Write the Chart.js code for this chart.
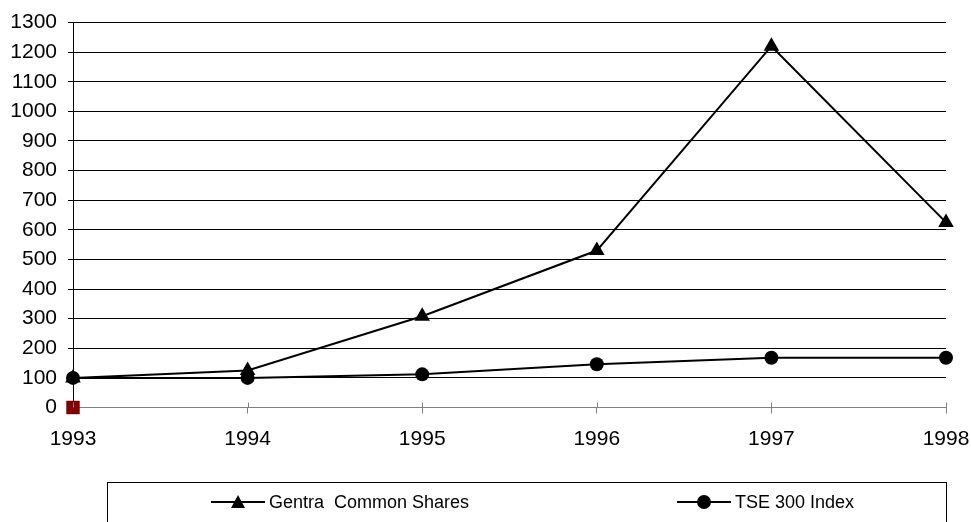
<!DOCTYPE html>
<html lang="en">
<head>
    <meta charset="UTF-8">
    <title>Gentra Common Shares vs TSE 300 Index</title>
    <script src="https://cdn.jsdelivr.net/npm/chart.js"></script>
    <style>
        body { margin: 0; background: #fff; font-family: Arial, "Liberation Sans", sans-serif; }
        #wrap { position: relative; width: 971px; height: 522px; overflow: hidden; }
        #legend {
            position: absolute; left: 107px; top: 482px; width: 840px; height: 60px;
            border: 1px solid #000; box-sizing: border-box;
        }
        .item { position: absolute; top: 8px; height: 22px; display: flex; align-items: center; font-size: 18px; color: #000; }
        .item svg { margin-right: 4px; }
    </style>
</head>
<body>
<div id="wrap">
    <canvas id="chart" width="971" height="522"></canvas>
    <div id="legend">
        <div class="item" style="left:103px">
            <svg width="54" height="20"><line x1="0" y1="10" x2="54" y2="10" stroke="#000" stroke-width="2"/><polygon points="27,3 34,16 20,16" fill="#000"/></svg>
            <span>Gentra&nbsp; Common Shares</span>
        </div>
        <div class="item" style="left:569px">
            <svg width="54" height="20"><line x1="0" y1="10" x2="54" y2="10" stroke="#000" stroke-width="2"/><circle cx="27" cy="10" r="7" fill="#000"/></svg>
            <span>TSE 300 Index</span>
        </div>
    </div>
</div>
<script>
    const years = ['1993', '1994', '1995', '1996', '1997', '1998'];
    const gentraShares = [100, 125, 308, 530, 1220, 625];
    const tse300Index = [100, 100, 112, 146, 168, 168];
    const baseMarker = [0, null, null, null, null, null];

    // tick marks crossing the x axis (upper half; lower half is drawn by Chart.js)
    const crossTicks = {
        id: 'crossTicks',
        afterDraw(chart) {
            const ctx = chart.ctx;
            const x = chart.scales.x;
            const y0 = chart.chartArea.bottom;
            ctx.save();
            ctx.strokeStyle = '#808080';
            ctx.lineWidth = 1;
            years.forEach((yr, i) => {
                const px = Math.round(x.getPixelForValue(i)) + 0.5;
                ctx.beginPath();
                ctx.moveTo(px, y0 - 5);
                ctx.lineTo(px, y0);
                ctx.stroke();
            });
            ctx.restore();
        }
    };

    const ctx = document.getElementById('chart').getContext('2d');
    new Chart(ctx, {
        type: 'line',
        data: {
            labels: years,
            datasets: [
                {
                    label: 'Gentra  Common Shares',
                    data: gentraShares,
                    borderColor: '#000',
                    backgroundColor: '#000',
                    borderWidth: 2,
                    pointStyle: 'triangle',
                    pointRadius: 9,
                    pointBorderWidth: 0,
                    tension: 0,
                    clip: false
                },
                {
                    label: 'TSE 300 Index',
                    data: tse300Index,
                    borderColor: '#000',
                    backgroundColor: '#000',
                    borderWidth: 2,
                    pointStyle: 'circle',
                    pointRadius: 7,
                    pointBorderWidth: 0,
                    tension: 0,
                    clip: false
                },
                {
                    label: 'Base',
                    data: baseMarker,
                    showLine: false,
                    borderColor: '#800000',
                    backgroundColor: '#800000',
                    pointStyle: 'rect',
                    pointRadius: 9.5,
                    pointBorderWidth: 0,
                    clip: false
                }
            ]
        },
        options: {
            responsive: false,
            animation: false,
            layout: { padding: { left: 0, right: 25, top: 22.5, bottom: 0 } },
            plugins: {
                legend: { display: false },
                tooltip: { enabled: false }
            },
            scales: {
                x: {
                    offset: false,
                    grid: {
                        drawOnChartArea: false,
                        drawTicks: true,
                        tickLength: 6,
                        color: '#808080'
                    },
                    border: { color: '#808080', width: 1 },
                    ticks: {
                        color: '#000',
                        font: { family: 'Arial, "Liberation Sans"', size: 21 },
                        padding: 13,
                        maxRotation: 0
                    },
                    afterFit(scale) {
                        scale.height = 114.5;
                        scale.paddingLeft = 0;
                        scale.paddingRight = 0;
                    }
                },
                y: {
                    min: 0,
                    max: 1300,
                    grid: {
                        color: (c) => c.tick && c.tick.value === 0 ? '#808080' : '#000',
                        lineWidth: 1,
                        tickLength: 5
                    },
                    border: { color: '#000', width: 1 },
                    ticks: {
                        stepSize: 100,
                        color: '#000',
                        font: { family: 'Arial, "Liberation Sans"', size: 21 },
                        padding: 11,
                        callback: (v) => String(v)
                    },
                    afterFit(scale) {
                        scale.width = 73;
                        scale.paddingTop = 0;
                        scale.paddingBottom = 0;
                    }
                }
            }
        },
        plugins: [crossTicks]
    });
</script>
</body>
</html>
